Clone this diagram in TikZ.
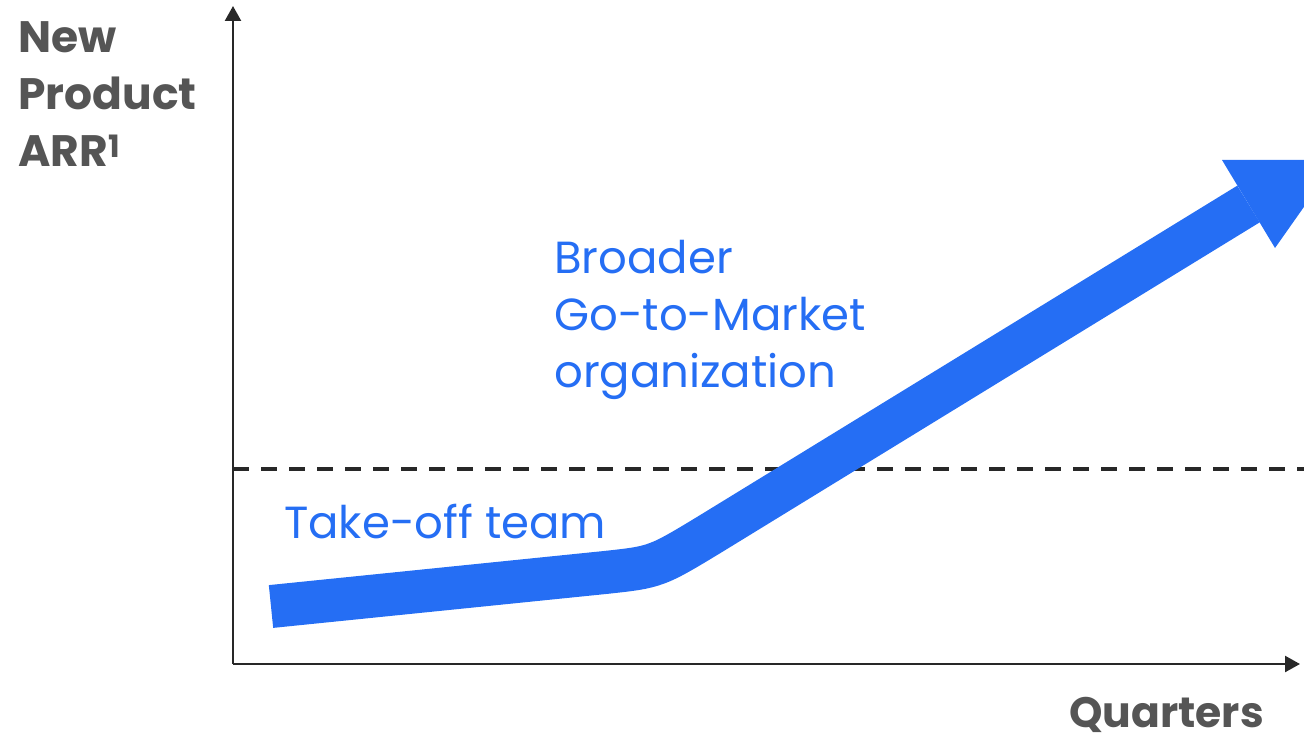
\documentclass[tikz,border=0pt]{standalone}
\usepackage{fontspec}
\setmainfont{Poppins}
\newfontfamily\headfont{Poppins}
\usetikzlibrary{arrows.meta}
\definecolor{arrowblue}{RGB}{37,110,244}
\definecolor{labelgray}{RGB}{85,85,85}
\definecolor{axisgray}{RGB}{40,40,40}
\begin{document}
\begin{tikzpicture}[x=1pt,y=-1pt,
  axisline/.style={draw=axisgray,line width=2.4pt,-{Triangle[length=15pt,width=16pt]}},
  refline/.style={draw=axisgray,line width=3.2pt,dash pattern=on 16pt off 12pt},
  headlabel/.style={inner sep=0pt,anchor=base west,text=labelgray,font=\headfont\bfseries\fontsize{44}{53}\selectfont},
  bluelabel/.style={inner sep=0pt,anchor=base west,text=arrowblue,font=\fontsize{45}{57}\selectfont},
  band/.style={draw=arrowblue,line width=43pt,line cap=butt},
  head/.style={fill=arrowblue,draw=none}
]
\useasboundingbox (0,0) rectangle (1304,741);
% axes
\coordinate (origin) at (233,664);
\coordinate (ytop) at (233,6);
\coordinate (xend) at (1300,664);
\draw[axisline] (origin) -- (ytop);
\draw[axisline] (origin) -- (xend);
% dashed threshold
\coordinate (dashL) at (233,469);
\coordinate (dashR) at (1304,469);
\draw[refline] (dashL) -- (dashR);
% growth arrow
\begin{scope}
\clip (0,0) rectangle (1304,741);
\coordinate (a0) at (271,606.5);
\coordinate (a1) at (605,572.5);
\coordinate (ac) at (656,567);
\coordinate (a2) at (712,533);
\coordinate (a3) at (1248.5,204);
\draw[band] (a0) -- (a1) .. controls (ac) .. (a2) -- (a3);
\coordinate (hL) at (1222,160);
\coordinate (hT) at (1337,160);
\coordinate (hR) at (1275,248);
\fill[head] (hL) -- (hT) -- (hR) -- cycle;
\end{scope}
% labels
\node[headlabel] (ynew) at (18,53) {New};
\node[headlabel] (yprod) at (18,110) {Product};
\node[headlabel] (yarr) at (18,167) {ARR\textsuperscript{1}};
\node[headlabel,font=\headfont\bfseries\fontsize{42.5}{50}\selectfont] (xlab) at (1069,727) {Quarters};
\node[bluelabel] (takeoff) at (284,538) {Take-off team};
\node[bluelabel] (b1) at (554,273) {Broader};
\node[bluelabel] (b2) at (554,330) {Go-to-Market};
\node[bluelabel] (b3) at (554,387) {organization};
\end{tikzpicture}
\end{document}
